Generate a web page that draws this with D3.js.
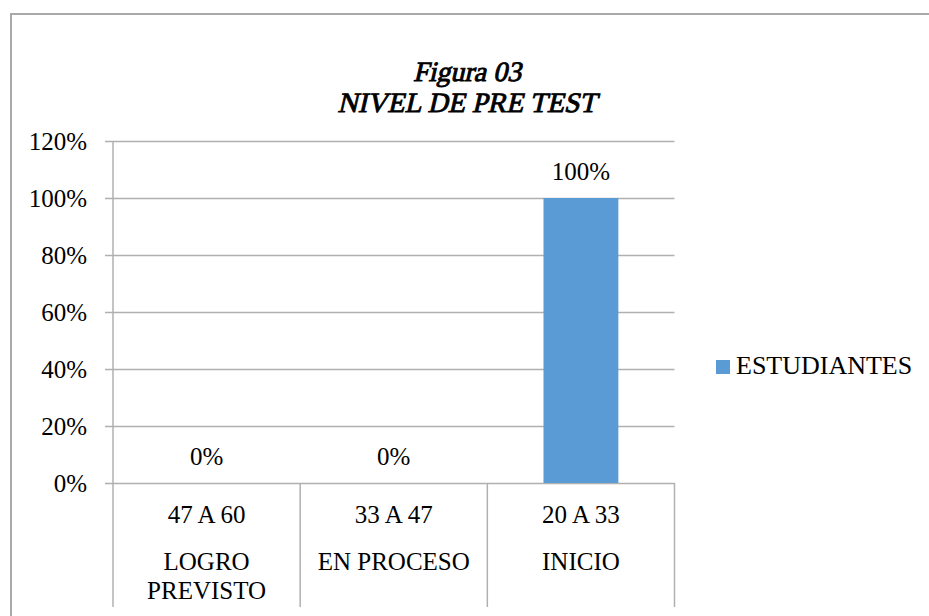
<!DOCTYPE html>
<html>
<head>
<meta charset="utf-8">
<script src="https://cdn.jsdelivr.net/npm/d3@7"></script>
<style>
  body { margin: 0; background: #fff; }
  text { font-family: "Liberation Serif", serif; fill: #000; }
</style>
</head>
<body>
<svg id="chart" width="929" height="616"></svg>
<script>
// chart data
var rangos = ['47 A 60', '33 A 47', '20 A 33'];
var niveles = [['LOGRO', 'PREVISTO'], ['EN PROCESO'], ['INICIO']];
var estudiantes = [0, 0, 1];
var yTicks = [0, 0.2, 0.4, 0.6, 0.8, 1.0, 1.2];
var serie = 'ESTUDIANTES';
var titulo = ['Figura 03', 'NIVEL DE PRE TEST'];

var svg = d3.select('#chart');
var gridColor = '#b0b0b0', barColor = '#5b9bd5';

// outer frame of the chart object
svg.append('rect')
   .attr('x', 11).attr('y', 14)
   .attr('width', 940).attr('height', 640)
   .style('fill', 'none').style('stroke', '#a9a9a9').style('stroke-width', 2);

var x = d3.scaleBand().domain(rangos).range([113, 674.5]).paddingInner(0).paddingOuter(0);
var y = d3.scaleLinear().domain([0, 1.2]).range([483, 141]);
var fmt = d3.format('.0%');

// title (bold italic serif faked: skew + stroke, the real face is not installed)
svg.selectAll('.title').data(titulo).enter().append('text')
   .attr('class', 'title')
   .attr('transform', function(d, i) { return 'translate(467,' + (81 + i * 31) + ') skewX(-13)'; })
   .attr('text-anchor', 'middle')
   .style('font-size', '28px')
   .style('stroke', '#000').style('stroke-width', 0.9)
   .text(function(d) { return d; });

// gridlines + y axis labels
var yAxis = d3.axisLeft(y).tickValues(yTicks).tickFormat(fmt)
              .tickSize(-(674.5 - 105)).tickPadding(18);
var gy = svg.append('g').attr('transform', 'translate(105,0)').call(yAxis);
gy.attr('font-family', null);
gy.select('.domain').remove();
gy.selectAll('.tick line').style('stroke', gridColor).style('stroke-width', 1.5);
gy.selectAll('.tick text').style('font-size', '25px').attr('dy', '0.32em');

// vertical axis line
svg.append('line')
   .attr('x1', 113).attr('x2', 113).attr('y1', y(1.2)).attr('y2', y(0))
   .style('stroke', gridColor).style('stroke-width', 1.5);

// category separators below the axis
var seps = [x.range()[0]].concat(rangos.map(function(d) { return x(d) + x.bandwidth(); }));
svg.selectAll('.sep').data(seps).enter().append('line')
   .attr('class', 'sep')
   .attr('x1', function(d) { return d; }).attr('x2', function(d) { return d; })
   .attr('y1', y(0)).attr('y2', 607)
   .style('stroke', gridColor).style('stroke-width', 1.5);

// bars
var barW = x.bandwidth() * 0.4;
svg.selectAll('.bar').data(estudiantes).enter().append('rect')
   .attr('class', 'bar')
   .attr('x', function(d, i) { return x(rangos[i]) + (x.bandwidth() - barW) / 2; })
   .attr('y', function(d) { return y(d); })
   .attr('width', barW)
   .attr('height', function(d) { return y(0) - y(d); })
   .style('fill', barColor);

// data labels
svg.selectAll('.lbl').data(estudiantes).enter().append('text')
   .attr('class', 'lbl')
   .attr('x', function(d, i) { return x(rangos[i]) + x.bandwidth() / 2; })
   .attr('y', function(d) { return y(d) - 18; })
   .attr('text-anchor', 'middle')
   .style('font-size', '25px')
   .text(function(d) { return fmt(d); });

// category labels, two levels
svg.selectAll('.rango').data(rangos).enter().append('text')
   .attr('class', 'rango')
   .attr('x', function(d) { return x(d) + x.bandwidth() / 2; })
   .attr('y', 523)
   .attr('text-anchor', 'middle')
   .style('font-size', '25px')
   .text(function(d) { return d; });

svg.selectAll('.nivel').data(niveles).enter().append('text')
   .attr('class', 'nivel')
   .attr('x', function(d, i) { return x(rangos[i]) + x.bandwidth() / 2; })
   .attr('y', 570)
   .attr('text-anchor', 'middle')
   .style('font-size', '25px')
   .each(function(d) {
     var t = d3.select(this);
     d.forEach(function(line, j) {
       t.append('tspan').attr('x', t.attr('x')).attr('dy', j === 0 ? 0 : 29).text(line);
     });
   });

// legend
var lg = svg.append('g').attr('transform', 'translate(716,360)');
lg.append('rect').attr('width', 14).attr('height', 14).style('fill', barColor);
lg.append('text').attr('x', 20).attr('y', 14).style('font-size', '26px').text(serie);
</script>
</body>
</html>
